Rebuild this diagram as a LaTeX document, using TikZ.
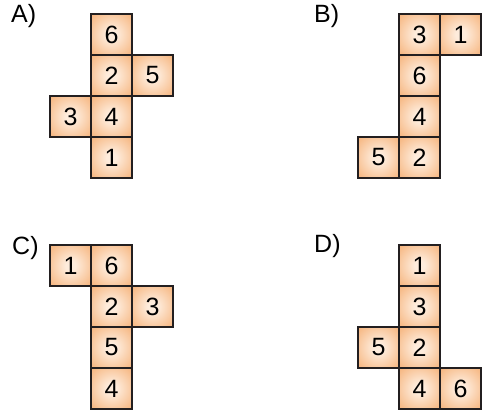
\documentclass[tikz,border=0pt]{standalone}
\usepackage{fontspec}
\setmainfont{Liberation Sans}
\definecolor{cellin}{RGB}{254,236,220}
\definecolor{cellout}{RGB}{246,182,128}
\definecolor{celledge}{RGB}{35,31,32}
\pgfdeclareradialshading{cellglow}{\pgfpoint{0bp}{0bp}}{color(0bp)=(cellin); color(6bp)=(cellin); color(34bp)=(cellout); color(50bp)=(cellout)}
\tikzset{
  cell/.style={draw=celledge, line width=1.5pt, shading=cellglow,
    minimum size=41pt, inner sep=0pt, font=\fontsize{25}{29}\selectfont},
  netlabel/.style={anchor=base west, inner sep=0pt, font=\fontsize{25}{29}\selectfont}
}

\begin{document}
\begin{tikzpicture}[x=41pt, y=-41pt]
    \useasboundingbox (0pt,0pt) rectangle (483pt,-414pt);

    % option labels
    \node[netlabel] (labA) at (11pt,-23pt) {A)};
    \node[netlabel] (labB) at (314pt,-23pt) {B)};
    \node[netlabel] (labC) at (12pt,-255pt) {C)};
    \node[netlabel] (labD) at (314pt,-253pt) {D)};

    % net A
    \begin{scope}[shift={(50pt,-14pt)}]
      \foreach \c/\r/\n in {1/0/6, 1/1/2, 2/1/5, 0/2/3, 1/2/4, 1/3/1}
        \node[cell] (a\n) at (\c+0.5,\r+0.5) {\n};
    \end{scope}

    % net B
    \begin{scope}[shift={(358pt,-14pt)}]
      \foreach \c/\r/\n in {1/0/3, 2/0/1, 1/1/6, 1/2/4, 0/3/5, 1/3/2}
        \node[cell] (b\n) at (\c+0.5,\r+0.5) {\n};
    \end{scope}

    % net C
    \begin{scope}[shift={(50pt,-245pt)}]
      \foreach \c/\r/\n in {0/0/1, 1/0/6, 1/1/2, 2/1/3, 1/2/5, 1/3/4}
        \node[cell] (c\n) at (\c+0.5,\r+0.5) {\n};
    \end{scope}

    % net D
    \begin{scope}[shift={(358pt,-245pt)}]
      \foreach \c/\r/\n in {1/0/1, 1/1/3, 0/2/5, 1/2/2, 1/3/4, 2/3/6}
        \node[cell] (d\n) at (\c+0.5,\r+0.5) {\n};
    \end{scope}
\end{tikzpicture}
\end{document}
